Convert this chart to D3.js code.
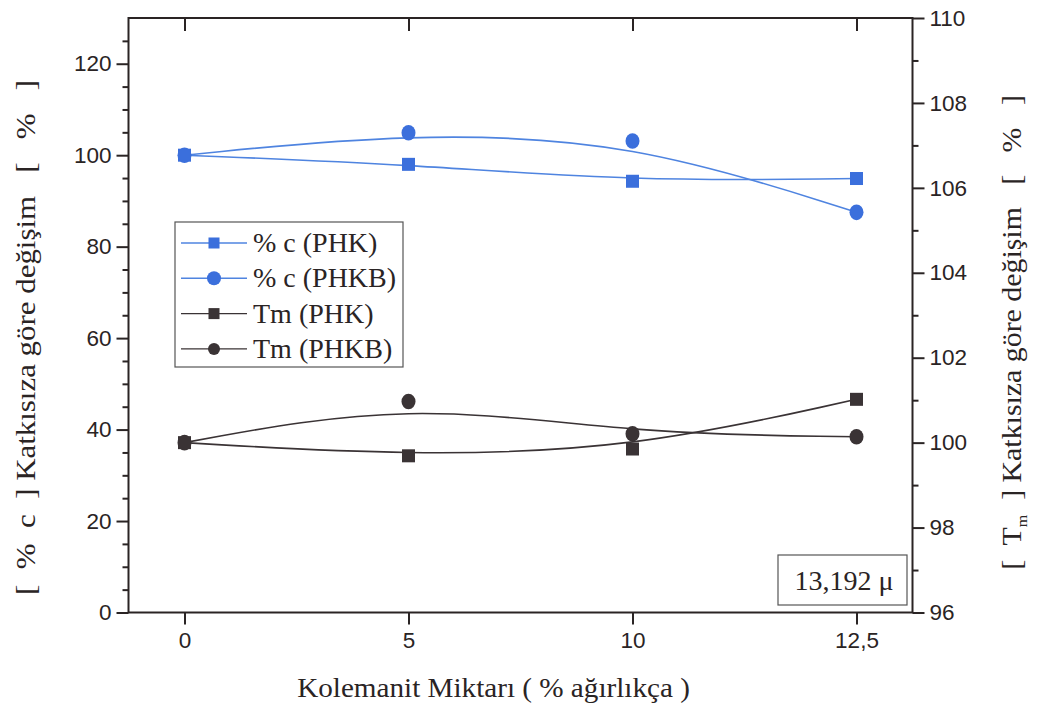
<!DOCTYPE html>
<html><head><meta charset="utf-8">
<script src="https://cdn.jsdelivr.net/npm/d3@7"></script>
<style>
body{margin:0;background:#fff;}
text{white-space:pre;}
</style></head>
<body><svg id="chart" width="1038" height="707"></svg>
<script>
const categories = ["0", "5", "10", "12,5"];
const pctC_PHK  = [100, 98.0, 94.3, 94.9];
const pctC_PHKB = [100, 104.9, 103.1, 87.5];
const tm_PHK    = [100, 99.69, 99.85, 101.02];
const tm_PHKB   = [100, 100.97, 100.21, 100.14];
const leftTicks  = [0, 20, 40, 60, 80, 100, 120];
const rightTicks = [96, 98, 100, 102, 104, 106, 108, 110];
const legendLabels = ["% c (PHK)", "% c (PHKB)", "Tm (PHK)", "Tm (PHKB)"];

const svg = d3.select("#chart");
const L = 128.5, R = 912.5, T = 18, B = 612.5;
const blue = "#3b6fdc", blueLine = "#4f84e0", dark = "#3a3335", axisC = "#2a2424";
const sans = "'Liberation Sans', Arial, sans-serif";
const serif = "'Liberation Serif', 'Times New Roman', serif";

const x = d3.scaleLinear().domain([-0.25, 3.25]).range([L, R]);
const yL = d3.scaleLinear().domain([0, 130]).range([B, T]);
const yR = d3.scaleLinear().domain([96, 110]).range([B, T]);

// stretch a text element along its direction to a target width
function fit(sel, target, base) {
  const w = sel.node().getBBox().width;
  sel.attr("transform", base + ` scale(${target / w},1)`);
}

// frame
svg.append("rect").attr("x", L).attr("y", T).attr("width", R - L).attr("height", B - T)
  .attr("fill", "none").attr("stroke", axisC).attr("stroke-width", 2);

function styleAxis(g, fs) {
  g.select(".domain").remove();
  g.selectAll("line").attr("stroke", axisC).attr("stroke-width", 2);
  g.selectAll("text").attr("fill", "#2a2424").style("font-family", sans).style("font-size", fs + "px");
}

// bottom axis
const gx = svg.append("g").attr("transform", `translate(0,${B})`)
  .call(d3.axisBottom(x).tickValues([0, 1, 2, 3]).tickFormat(i => categories[i]).tickSize(12).tickPadding(8));
styleAxis(gx, 22.5);
// top axis ticks (inward)
const gxt = svg.append("g").attr("transform", `translate(0,${T})`)
  .call(d3.axisBottom(x).tickValues([0, 1, 2, 3]).tickFormat("").tickSize(13));
styleAxis(gxt, 22);

// left axis minor + major
const gyLm = svg.append("g").attr("transform", `translate(${L},0)`)
  .call(d3.axisLeft(yL).tickValues(d3.range(5, 130, 5).filter(v => v % 20 !== 0)).tickFormat("").tickSize(6));
styleAxis(gyLm, 22);
const gyL = svg.append("g").attr("transform", `translate(${L},0)`)
  .call(d3.axisLeft(yL).tickValues(leftTicks).tickSize(12).tickPadding(5));
styleAxis(gyL, 22.5);

// right axis minor + major
const gyRm = svg.append("g").attr("transform", `translate(${R},0)`)
  .call(d3.axisRight(yR).tickValues(d3.range(97, 110, 2)).tickFormat("").tickSize(6));
styleAxis(gyRm, 22);
const gyR = svg.append("g").attr("transform", `translate(${R},0)`)
  .call(d3.axisRight(yR).tickValues(rightTicks).tickSize(12).tickPadding(5));
styleAxis(gyR, 22.5);

// axis titles
const bt = svg.append("text").attr("text-anchor", "middle")
  .style("font-family", serif).style("font-size", "28px").attr("fill", "#2a2424")
  .text("Kolemanit Miktarı ( % ağırlıkça )");
fit(bt, 393, "translate(493.5,697)");
const lt = svg.append("text").attr("text-anchor", "middle")
  .style("font-family", serif).style("font-size", "28px").attr("fill", "#2a2424")
  .text("[  %  c  ] Katkısıza göre değişim   [   %   ]");
fit(lt, 515, "translate(35,337.5) rotate(-90)");
const rt = svg.append("text").attr("text-anchor", "middle")
  .style("font-family", serif).style("font-size", "28px").attr("fill", "#2a2424");
rt.append("tspan").text("[  T");
rt.append("tspan").attr("dy", 6).style("font-size", "15px").text("m");
rt.append("tspan").attr("dy", -6).text("  ] Katkısıza göre değişim   [   %   ]");
fit(rt, 475, "translate(1021,332.5) rotate(-90)");

// series
const series = [
  {vals: pctC_PHK, y: yL, color: blue, line: blueLine, shape: "square"},
  {vals: pctC_PHKB, y: yL, color: blue, line: blueLine, shape: "circle"},
  {vals: tm_PHK, y: yR, color: dark, line: dark, shape: "square"},
  {vals: tm_PHKB, y: yR, color: dark, line: dark, shape: "circle"}
];
series.forEach(s => {
  const line = d3.line().x((d, i) => x(i)).y(d => s.y(d)).curve(d3.curveBasis);
  svg.append("path").datum(s.vals).attr("d", line).attr("fill", "none")
    .attr("stroke", s.line).attr("stroke-width", 1.6);
});
series.forEach(s => {
  const g = svg.append("g");
  if (s.shape === "square") {
    g.selectAll("rect").data(s.vals).join("rect")
      .attr("x", (d, i) => x(i) - 6.5).attr("y", d => s.y(d) - 6.5)
      .attr("width", 13).attr("height", 13).attr("fill", s.color);
  } else {
    g.selectAll("ellipse").data(s.vals).join("ellipse")
      .attr("cx", (d, i) => x(i)).attr("cy", d => s.y(d))
      .attr("rx", 7).attr("ry", 7.8).attr("fill", s.color);
  }
});

// legend
const lg = svg.append("g");
lg.append("rect").attr("x", 175).attr("y", 222).attr("width", 228).attr("height", 145)
  .attr("fill", "#fff").attr("stroke", "#555").attr("stroke-width", 1.2);
legendLabels.forEach((lab, i) => {
  const s = series[i];
  const cy = 243 + i * 35.3;
  lg.append("line").attr("x1", 181).attr("x2", 247).attr("y1", cy).attr("y2", cy)
    .attr("stroke", s.line).attr("stroke-width", 1.4);
  if (s.shape === "square") {
    lg.append("rect").attr("x", 208.5).attr("y", cy - 5.5).attr("width", 11).attr("height", 11)
      .attr("fill", s.color);
  } else {
    lg.append("circle").attr("cx", 214).attr("cy", cy).attr("r", s.color === blue ? 7 : 6).attr("fill", s.color);
  }
  lg.append("text").attr("x", 253).attr("y", cy + 9).style("font-family", serif).style("font-size", "28px")
    .attr("fill", "#2a2424").text(lab);
});

// annotation box
svg.append("rect").attr("x", 778).attr("y", 555).attr("width", 129).attr("height", 50)
  .attr("fill", "#fff").attr("stroke", "#555").attr("stroke-width", 1.2);
svg.append("text").attr("x", 844).attr("y", 590).attr("text-anchor", "middle")
  .style("font-family", serif).style("font-size", "28px").attr("fill", "#2a2424").text("13,192 μ");
</script></body></html>
